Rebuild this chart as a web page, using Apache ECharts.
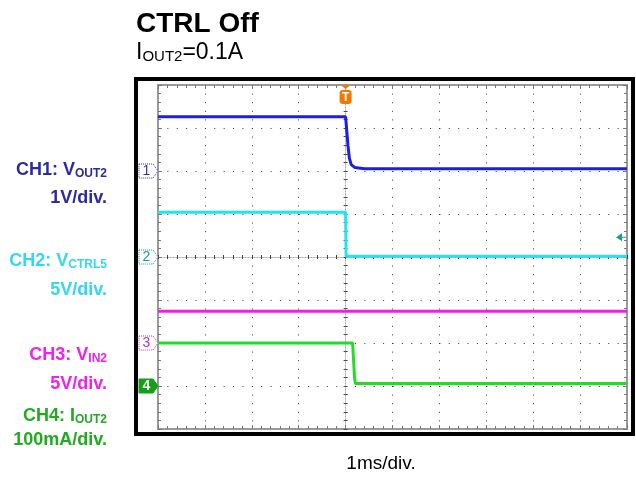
<!DOCTYPE html>
<html>
<head>
<meta charset="utf-8">
<script src="https://cdn.jsdelivr.net/npm/echarts@6/dist/echarts.min.js"></script>
<style>
  html, body { margin: 0; padding: 0; background: #fff; }
  #c { width: 636px; height: 477px; }
</style>
</head>
<body>
<div id="c"></div>
<script>
// Time base: 1 ms/div, trigger at t = 0, 10 horizontal divisions
const timeRange = [-4, 6];
// 8 vertical divisions, centre = 0
const divRange = [-4, 4];

// CH1: VOUT2 (V)
const ch1Time = [-4, 0, 0.02, 0.05, 0.08, 0.12, 0.2, 0.4, 6];
const ch1Volt = [1.26, 1.26, 1.0, 0.6, 0.3, 0.15, 0.08, 0.05, 0.05];
// CH2: VCTRL5 (V)
const ch2Time = [-4, 0, 0.01, 6];
const ch2Volt = [5.2, 5.2, 0.1, 0.1];
// CH3: VIN2 (V)
const ch3Time = [-4, 6];
const ch3Volt = [3.7, 3.7];
// CH4: IOUT2 (A)
const ch4Time = [-4, 0.15, 0.17, 0.19, 0.21, 6];
const ch4Amp = [0.1, 0.1, 0.06, 0.02, 0.006, 0.006];

// Vertical scale (units/div) and ground marker position (divisions from centre)
const chScale = [1, 5, 5, 0.1];
const chGround = [2, 0, -2, -3];
const chTrace = ['#1e1ee2', '#22e4ee', '#f01cf0', '#22dd22'];
const chLabelColor = ['#2a2aa2', '#33d8ee', '#ee22ee', '#22aa22'];
const chMarkerColor = ['#3434b0', '#1a9c9c', '#b040b0', '#14a014'];
const chMarkerText = ['1', '2', '3', '4'];

// CH2 trigger level (V)
const trigLevel = 2.3;

const chart = echarts.init(document.getElementById('c'), null, { renderer: 'canvas' });

const GRID = { left: 158, top: 85, width: 469, height: 344 };
const rulerColor = '#9a9a9a';
const dotColor = '#333';

function rulerX(extra) {
  return Object.assign({
    type: 'value', min: timeRange[0], max: timeRange[1], interval: 1,
    axisLabel: { show: false },
    axisLine: { show: true, onZero: false, lineStyle: { color: rulerColor, width: 2 } },
    axisTick: { show: true, inside: true, length: 4, lineStyle: { color: '#777', width: 1 } },
    minorTick: { show: true, splitNumber: 5, length: 3, lineStyle: { color: '#777', width: 1 } },
    splitLine: { show: false }
  }, extra);
}
function rulerY(extra) {
  return Object.assign({
    type: 'value', min: divRange[0], max: divRange[1], interval: 1,
    axisLabel: { show: false },
    axisLine: { show: true, onZero: false, lineStyle: { color: rulerColor, width: 2 } },
    axisTick: { show: true, inside: true, length: 4, lineStyle: { color: '#777', width: 1 } },
    minorTick: { show: true, splitNumber: 5, length: 3, lineStyle: { color: '#777', width: 1 } },
    splitLine: { show: false }
  }, extra);
}
const centreLine = { show: true, onZero: true, onZeroAxisIndex: 0, lineStyle: { color: '#aaa', width: 1, type: [1, 2] } };
const centreTick = { show: true, length: 2, lineStyle: { color: '#444', width: 1 } };
const centreMinor = { show: true, splitNumber: 5, length: 2, lineStyle: { color: '#444', width: 1 } };

const xAxes = [
  rulerX({ position: 'bottom',
    splitLine: { show: true, lineStyle: { color: dotColor, width: 1, type: [1, 344 / 40 - 1] } } }),
  rulerX({ position: 'top' }),
  rulerX({ position: 'bottom', axisLine: centreLine, axisTick: Object.assign({ inside: true }, centreTick), minorTick: centreMinor }),
  rulerX({ position: 'bottom', axisLine: centreLine, axisTick: Object.assign({ inside: false }, centreTick), minorTick: centreMinor })
];
const yAxes = [
  rulerY({ position: 'left',
    splitLine: { show: true, lineStyle: { color: dotColor, width: 1, type: [1, 469 / 50 - 1] } } }),
  rulerY({ position: 'right' }),
  rulerY({ position: 'left', axisLine: centreLine, axisTick: Object.assign({ inside: true }, centreTick), minorTick: centreMinor }),
  rulerY({ position: 'left', axisLine: centreLine, axisTick: Object.assign({ inside: false }, centreTick), minorTick: centreMinor })
];
// one hidden value axis per channel, placing its ground at the marker
chScale.forEach((s, i) => {
  yAxes.push({
    type: 'value', show: false,
    min: (divRange[0] - chGround[i]) * s,
    max: (divRange[1] - chGround[i]) * s,
    axisLine: { onZero: false }, splitLine: { show: false }
  });
});

const traces = [
  [ch1Time, ch1Volt], [ch2Time, ch2Volt], [ch3Time, ch3Volt], [ch4Time, ch4Amp]
];
const series = traces.map((tr, i) => ({
  type: 'line',
  xAxisIndex: 0,
  yAxisIndex: 4 + i,
  data: tr[0].map((t, k) => [t, tr[1][k]]),
  showSymbol: false,
  symbol: 'none',
  lineStyle: { color: chTrace[i], width: 3 },
  z: 3 + (3 - i),
  animation: false
}));

chart.setOption({
  animation: false,
  backgroundColor: '#fff',
  grid: GRID,
  xAxis: xAxes,
  yAxis: yAxes,
  series: series
});

// ---- decorations: frame, titles, channel labels and markers ----
const g = [];
const font = '"Liberation Sans", Arial, sans-serif';

// scope screen frame
g.push({ type: 'rect', shape: { x: 136, y: 79, width: 497, height: 355 },
  style: { fill: 'none', stroke: '#000', lineWidth: 4 }, z: 50 });

// title block
g.push({ type: 'text', x: 136, y: 24, z: 60,
  style: { text: 'CTRL Off', font: 'bold 28px ' + font, fill: '#000', verticalAlign: 'middle', align: 'left' } });
g.push({ type: 'text', x: 136, y: 52, z: 60,
  style: { text: '{n|I}{s|OUT2}{n|=0.1A}', verticalAlign: 'middle', align: 'left',
    rich: {
      n: { fontSize: 23, fontFamily: font, fill: '#000', lineHeight: 24, verticalAlign: 'bottom' },
      s: { fontSize: 15, fontFamily: font, fill: '#000', lineHeight: 18, verticalAlign: 'bottom' }
    } } });

// horizontal scale
g.push({ type: 'text', x: 381, y: 464, z: 60,
  style: { text: '1ms/div.', font: '19px ' + font, fill: '#000', align: 'center', verticalAlign: 'middle' } });

// channel names and scales
const chName = [['CH1: V', 'OUT2', '1V/div.'], ['CH2: V', 'CTRL5', '5V/div.'],
                ['CH3: V', 'IN2', '5V/div.'], ['CH4: I', 'OUT2', '100mA/div.']];
const nameY = [170, 261, 355, 416];
const scaleY = [198, 290, 384, 440];
chName.forEach((n, i) => {
  const c = chLabelColor[i];
  g.push({ type: 'text', x: 107, y: nameY[i], z: 60,
    style: { text: '{b|' + n[0] + '}{s|' + n[1] + '}', align: 'right', verticalAlign: 'middle',
      rich: {
        b: { fontSize: 18, fontWeight: 'bold', fontFamily: font, fill: c, lineHeight: 19, verticalAlign: 'bottom' },
        s: { fontSize: 12, fontWeight: 'bold', fontFamily: font, fill: c, lineHeight: 15, verticalAlign: 'bottom' }
      } } });
  g.push({ type: 'text', x: 107, y: scaleY[i], z: 60,
    style: { text: n[2], font: 'bold 18px ' + font, fill: c, align: 'right', verticalAlign: 'middle' } });
});

// ground markers at the left of the screen
chGround.forEach((gd, i) => {
  const y = chart.convertToPixel({ yAxisIndex: 4 + i }, 0);
  const x0 = 139, w = 14, h = 7, tip = 19;
  const filled = i === 3;
  g.push({ type: 'polygon', z: 55,
    shape: { points: [[x0, y - h], [x0 + w, y - h], [x0 + tip, y], [x0 + w, y + h], [x0, y + h]] },
    style: { fill: filled ? chMarkerColor[i] : '#fff', stroke: chMarkerColor[i], lineWidth: 1, lineDash: filled ? null : [1, 1] } });
  g.push({ type: 'text', x: x0 + 7.5, y: y + 0.5, z: 56,
    style: { text: chMarkerText[i], font: (filled ? 'bold ' : '') + '14px ' + font, fill: filled ? '#fff' : chMarkerColor[i], align: 'center', verticalAlign: 'middle' } });
});

// trigger position marker
const tx = chart.convertToPixel({ xAxisIndex: 0 }, 0);
g.push({ type: 'polygon', z: 55, shape: { points: [[tx - 5, 85], [tx + 5, 85], [tx, 89]] }, style: { fill: '#f07a00' } });
g.push({ type: 'rect', z: 55, shape: { x: tx - 6, y: 90, width: 12, height: 14, r: 3 }, style: { fill: '#f07a00' } });
g.push({ type: 'text', x: tx, y: 97.5, z: 56,
  style: { text: 'T', font: 'bold 12px ' + font, fill: '#fff', align: 'center', verticalAlign: 'middle' } });

// trigger level marker (CH2)
const ty = chart.convertToPixel({ yAxisIndex: 5 }, trigLevel);
g.push({ type: 'polygon', z: 55, shape: { points: [[616, ty], [622, ty - 4], [622, ty + 4]] }, style: { fill: '#1a9c9c' } });
g.push({ type: 'line', z: 55, shape: { x1: 622, y1: ty, x2: 626, y2: ty }, style: { stroke: '#1a9c9c', lineWidth: 1 } });

chart.setOption({ graphic: g });
</script>
</body>
</html>
